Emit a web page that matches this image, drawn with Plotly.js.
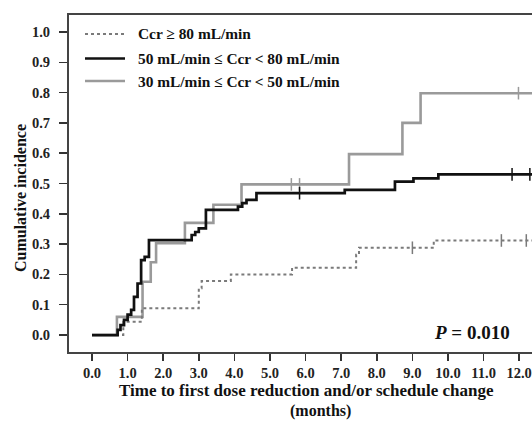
<!DOCTYPE html>
<html>
<head>
<meta charset="utf-8">
<script src="https://cdn.plot.ly/plotly-3.0.1.min.js"></script>
<style>html,body{margin:0;padding:0;background:#fff;overflow:hidden}#chart{width:532px;height:421px}</style>
</head>
<body>
<div id="chart"></div>
<script>
// ---- data ----
const seriesNames = ["Ccr \u2265 80 mL/min", "50 mL/min \u2264 Ccr < 80 mL/min", "30 mL/min \u2264 Ccr < 50 mL/min"];

const timeHigh = [0, 0.88, 1.40, 3.00, 3.08, 3.90, 5.62, 7.42, 7.50, 9.60, 12.6];
const incHigh  = [0, 0.044, 0.088, 0.154, 0.178, 0.200, 0.222, 0.265, 0.288, 0.312, 0.312];
const censorHigh = [9.0, 11.5, 12.2];

const timeMid = [0, 0.72, 0.80, 0.90, 1.00, 1.10, 1.18, 1.28, 1.38, 1.48, 1.60, 2.80, 2.90, 3.00, 3.20, 4.10, 4.22, 4.34, 4.62, 7.10, 8.51, 9.03, 9.73, 12.6];
const incMid  = [0, 0.017, 0.033, 0.050, 0.067, 0.083, 0.126, 0.170, 0.247, 0.258, 0.313, 0.330, 0.340, 0.352, 0.413, 0.424, 0.435, 0.446, 0.468, 0.479, 0.506, 0.517, 0.530, 0.530];
const censorMid = [5.83, 11.8, 12.3];

const timeLow = [0, 0.70, 1.42, 1.65, 1.80, 2.61, 3.41, 4.20, 7.22, 8.72, 9.23, 12.6];
const incLow  = [0, 0.060, 0.176, 0.240, 0.303, 0.370, 0.430, 0.497, 0.597, 0.700, 0.798, 0.798];
const censorLow = [5.60, 5.83, 11.98];

const xTicks = [0,1,2,3,4,5,6,7,8,9,10,11,12];
const xTickText = ["0.0","1.0","2.0","3.0","4.0","5.0","6.0","7.0","8.0","9.0","10.0","11.0","12.0"];
const yTicks = [0,0.1,0.2,0.3,0.4,0.5,0.6,0.7,0.8,0.9,1.0];
const yTickText = ["0.0","0.1","0.2","0.3","0.4","0.5","0.6","0.7","0.8","0.9","1.0"];

const xTitle1 = "Time to first dose reduction and/or schedule change";
const xTitle2 = "(months)";
const yTitle = "Cumulative incidence";
const pText = "<i>P</i> = 0.010";

// ---- helpers ----
function stepAt(ts, vs, t){ let v = vs[0]; for (let i=0;i<ts.length;i++){ if (ts[i] <= t) v = vs[i]; } return v; }

const styles = [
  {color:"#7a7a7a", width:2, dash:"dot"},
  {color:"#111111", width:2.7, dash:"solid"},
  {color:"#9a9a9a", width:2.6, dash:"solid"}
];
const groups = [
  [timeHigh, incHigh, censorHigh],
  [timeMid, incMid, censorMid],
  [timeLow, incLow, censorLow]
];

const traces = [];
[2,0,1].forEach(function(i){
  const g = groups[i];
  traces.push({x:g[0], y:g[1], type:"scatter", mode:"lines", line:{shape:"hv", color:styles[i].color, width:styles[i].width, dash:styles[i].dash}, name:seriesNames[i], showlegend:false, hoverinfo:"skip"});
  traces.push({x:g[2], y:g[2].map(t=>stepAt(g[0], g[1], t)), type:"scatter", mode:"markers", marker:{symbol:"line-ns-open", size:9, color:styles[i].color, line:{color:styles[i].color, width:1.5}}, showlegend:false, hoverinfo:"skip"});
});

const L = 69, T = 15, W = 532, H = 421, B = 69;
const pw = W - L, ph = H - T - B;
const px = v => (v - L) / pw;
const py = v => (H - B - v) / ph;

const serif = "Liberation Serif, Times New Roman, serif";
const shapes = [];
const annotations = [];
const legRows = [34, 58.5, 81];
for (let i=0;i<3;i++){
  shapes.push({type:"line", xref:"paper", yref:"paper", x0:px(85), x1:px(125), y0:py(legRows[i]), y1:py(legRows[i]), line:{color:styles[i].color, width:styles[i].width, dash:styles[i].dash}});
  annotations.push({xref:"paper", yref:"paper", x:px(136), y:py(legRows[i]), xanchor:"left", yanchor:"middle", text:seriesNames[i].replace("<","&lt;"), showarrow:false, font:{family:serif, size:15.4, color:"#111", weight:"bold"}});
}
annotations.push({xref:"paper", yref:"paper", x:px(306.5), y:py(391), xanchor:"center", yanchor:"middle", text:xTitle1, showarrow:false, borderpad:0, font:{family:serif, size:17, color:"#111", weight:"bold"}});
annotations.push({xref:"paper", yref:"paper", x:px(320), y:py(411), xanchor:"center", yanchor:"middle", text:xTitle2, showarrow:false, borderpad:0, font:{family:serif, size:16, color:"#111", weight:"bold"}});
annotations.push({xref:"paper", yref:"paper", x:px(20), y:py(198), xanchor:"center", yanchor:"middle", textangle:-90, text:yTitle, showarrow:false, font:{family:serif, size:16, color:"#111", weight:"bold"}});
annotations.push({xref:"paper", yref:"paper", x:px(512), y:py(332), xanchor:"right", yanchor:"middle", text:pText, showarrow:false, font:{family:serif, size:19, color:"#111", weight:"bold"}});

const layout = {
  width: W, height: H,
  margin: {l:L, r:0, t:T, b:B, pad:0},
  paper_bgcolor:"#fff", plot_bgcolor:"#fff",
  showlegend:false,
  xaxis:{range:[-0.646, 12.36], tickvals:xTicks, ticktext:xTickText, ticks:"outside", ticklen:7, tickwidth:1.5, tickcolor:"#333",
         showline:true, mirror:true, linecolor:"#444", linewidth:2, showgrid:false, zeroline:false,
         tickfont:{family:serif, size:14.5, color:"#222", weight:"bold"}, ticklabelstandoff:0},
  yaxis:{range:[-0.056, 1.056], tickvals:yTicks, ticktext:yTickText, ticks:"outside", ticklen:8, tickwidth:1.5, tickcolor:"#333",
         showline:true, mirror:false, linecolor:"#444", linewidth:2, showgrid:false, zeroline:false,
         tickfont:{family:serif, size:14.5, color:"#222", weight:"bold"}, ticklabelstandoff:6},
  shapes: shapes,
  annotations: annotations
};

Plotly.newPlot("chart", traces, layout, {displayModeBar:false, staticPlot:true});
</script>
</body>
</html>
